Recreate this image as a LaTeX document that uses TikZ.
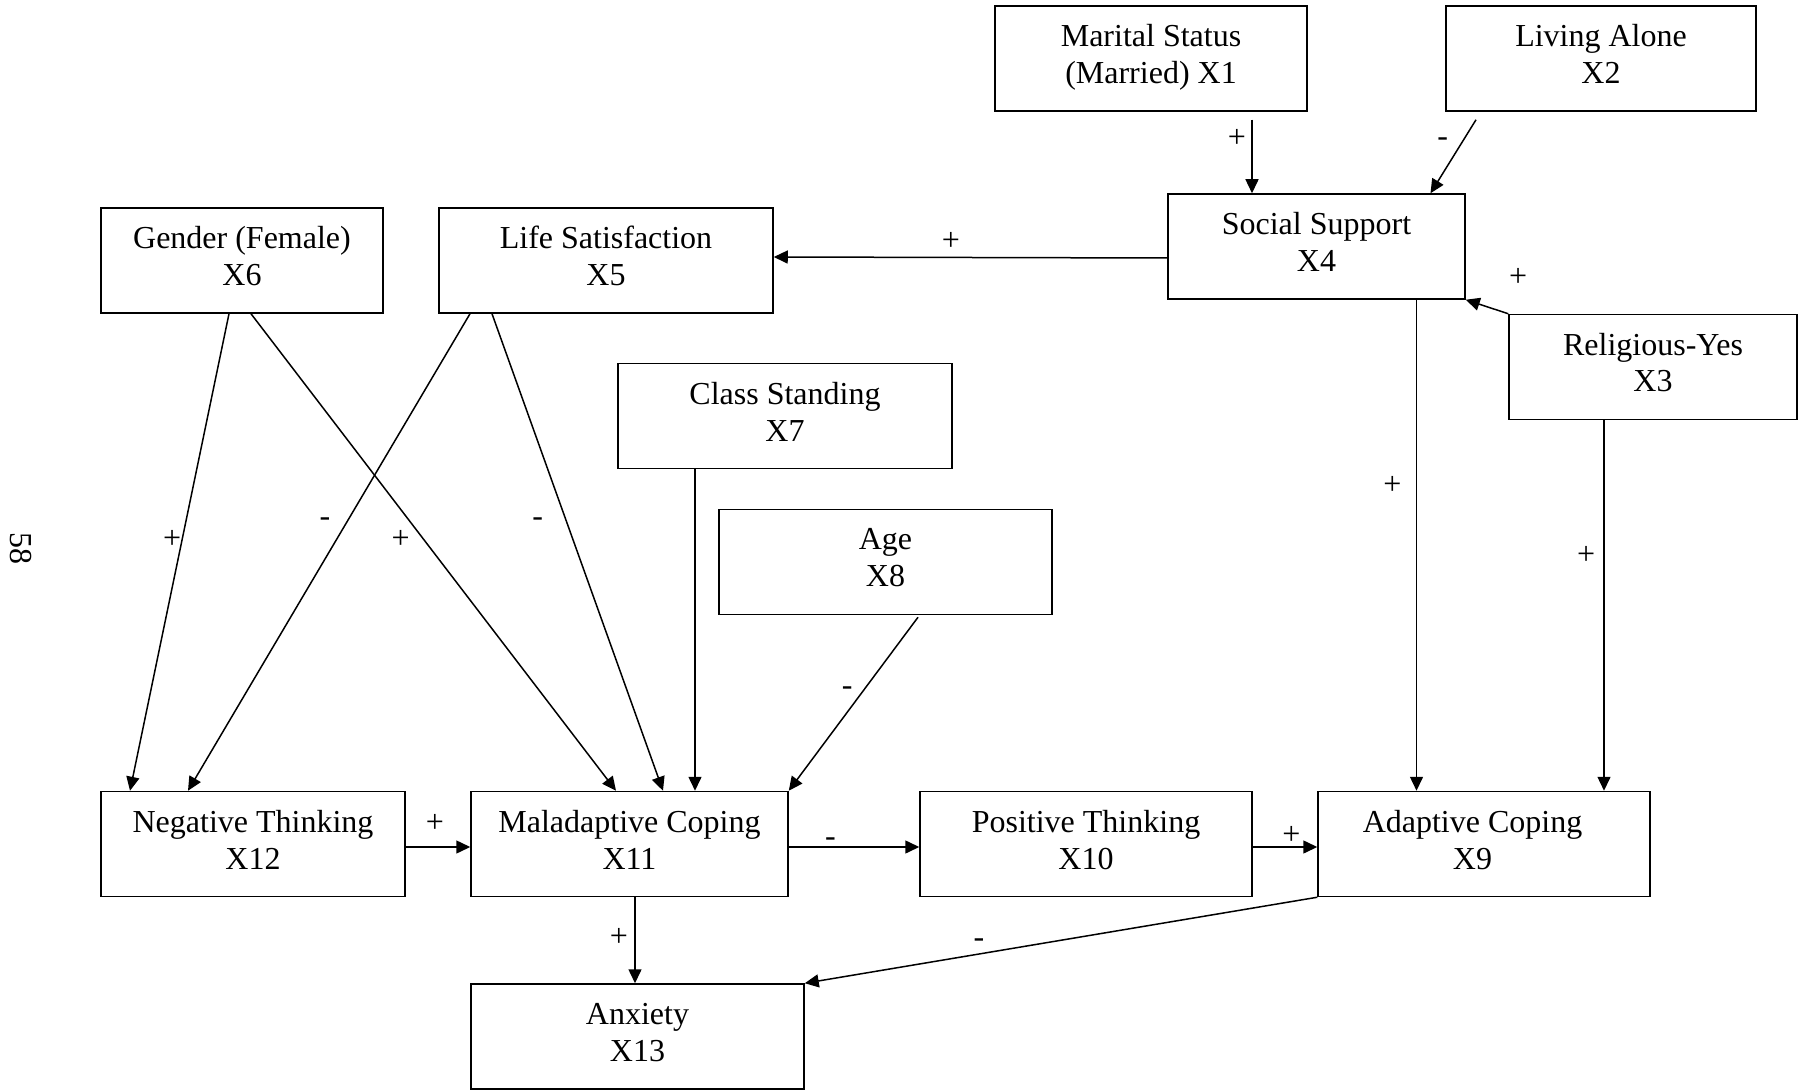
\documentclass[tikz,border=0pt]{standalone}
\usepackage{fontspec}
\setmainfont{Liberation Serif}
\usetikzlibrary{arrows.meta}
\newcommand{\lo}{\rule[-4.5pt]{0pt}{4.5pt}}

\begin{document}
\begin{tikzpicture}[x=0.5pt, y=-0.5pt, line width=0.75pt,
	font=\fontsize{16}{18.4}\selectfont,
	>={Triangle[length=7pt,width=6.5pt]},
	var/.style={draw, align=center, minimum height=52.5pt, inner sep=0pt},
	sgn/.style={inner sep=1pt}]
	\useasboundingbox (0,0) rectangle (1798,1090);
	\node[rotate=-90] (pg) at (21,548) {58};
	% variables
	\node[var, minimum width=156pt] (x1) at (1151,58.5) {Marital Status\\(Married) X1\lo};
	\node[var, minimum width=155pt] (x2) at (1601,58.5) {Living Alone\\X2\lo};
	\node[var, minimum width=144pt] (x3) at (1653,367) {Religious-Yes\\X3\lo};
	\node[var, minimum width=148.5pt] (x4) at (1316.5,246.5) {Social Support\\X4\lo};
	\node[var, minimum width=167pt] (x5) at (606,260.5) {Life Satisfaction\\X5\lo};
	\node[var, minimum width=141pt] (x6) at (242,260.5) {Gender (Female)\\X6\lo};
	\node[var, minimum width=167pt] (x7) at (785,416) {Class Standing\\X7\lo};
	\node[var, minimum width=166.5pt] (x8) at (885.5,562) {Age\\X8\lo};
	\node[var, minimum width=166pt] (x9) at (1484,844) {Adaptive Coping\hspace*{11.5pt}\\X9\hspace*{11.5pt}\lo};
	\node[var, minimum width=166pt] (x10) at (1086,844) {Positive Thinking\\X10\lo};
	\node[var, minimum width=158.5pt] (x11) at (629.5,844) {Maladaptive Coping\\X11\lo};
	\node[var, minimum width=152pt] (x12) at (253,844) {Negative Thinking\\X12\lo};
	\node[var, minimum width=166.5pt] (x13) at (637.5,1036.5) {Anxiety\\X13\lo};
	% paths
	\draw[->] ([xshift=50.5pt,yshift=-4pt]x1.south) -- ([xshift=50.5pt]x1.south |- x4.north)
		node[sgn, pos=0.25, xshift=-7.5pt] (s1) {+};
	\draw[->] ([xshift=-62.5pt,yshift=-4pt]x2.south) -- ([xshift=57pt]x4.north)
		node[sgn, pos=0.27, xshift=-10.5pt, yshift=-1.5pt] (s2) {-};
	\draw[->] (x3.north west) -- (x4.south east)
		node[sgn, pos=0, xshift=5pt, yshift=18pt] (s3) {+};
	\draw[->] ([yshift=-5.75pt]x4.west) -- ([yshift=1.75pt]x5.east)
		node[sgn, pos=0.55, yshift=8pt] (s4) {+};
	\draw[->] ([xshift=50pt]x4.south) -- ([xshift=50pt]x4.south |- x9.north)
		node[sgn, pos=0.378, xshift=-12pt] (s5) {+};
	\draw[->] ([xshift=-24.5pt]x3.south) -- ([xshift=-24.5pt]x3.south |- x9.north)
		node[sgn, pos=0.364, xshift=-9pt] (s6) {+};
	\draw[->] ([xshift=-6.5pt]x6.south) -- ([xshift=-61.5pt]x12.north)
		node[sgn, pos=0.473, xshift=-5pt] (s7) {+};
	\draw[->] ([xshift=4.5pt]x6.south) -- ([xshift=-6.75pt]x11.north)
		node[sgn, pos=0.473, xshift=-11.5pt] (s8) {+};
	\draw[->] ([xshift=-68pt]x5.south) -- ([xshift=-32.5pt]x12.north)
		node[sgn, pos=0.431, xshift=-11.75pt, yshift=-1.5pt] (s9) {-};
	\draw[->] ([xshift=-57pt]x5.south) -- ([xshift=16.75pt]x11.north)
		node[sgn, pos=0.431, xshift=-14pt, yshift=-1.5pt] (s10) {-};
	\draw[->] ([xshift=-45pt]x7.south) -- ([xshift=-45pt]x7.south |- x11.north);
	\draw[->] ([xshift=16.25pt,yshift=-1pt]x8.south) -- (x11.north east)
		node[sgn, pos=0.408, xshift=-9pt, yshift=-1.5pt] (s12) {-};
	\draw[->] ([yshift=-1.5pt]x12.east) -- ([yshift=-1.5pt]x12.east -| x11.west)
		node[sgn, pos=0.45, yshift=12pt] (s13) {+};
	\draw[->] ([yshift=-1.5pt]x11.east) -- ([yshift=-1.5pt]x11.east -| x10.west)
		node[sgn, pos=0.32, yshift=2.5pt] (s14) {-};
	\draw[->] ([yshift=-1.5pt]x10.east) -- ([yshift=-1.5pt]x10.east -| x9.west)
		node[sgn, pos=0.6, yshift=6pt] (s15) {+};
	\draw[->] ([xshift=2.75pt]x11.south) -- ([xshift=2.75pt]x11.south |- x13.north)
		node[sgn, pos=0.47, xshift=-8pt] (s16) {+};
	\draw[->] (x9.south west) -- (x13.north east)
		node[sgn, pos=0.66, yshift=5.4pt] (s17) {-};
\end{tikzpicture}
\end{document}
